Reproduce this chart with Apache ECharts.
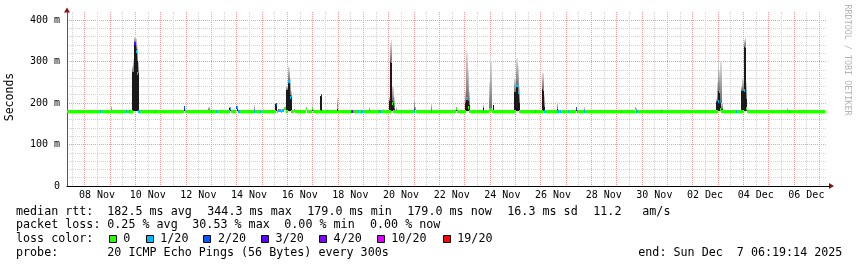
<!DOCTYPE html>
<html><head><meta charset="utf-8">
<script src="https://cdn.jsdelivr.net/npm/echarts@6/dist/echarts.min.js"></script>
<style>html,body{margin:0;padding:0;background:#fff}#c{width:857px;height:267px}</style>
</head><body><div id="c"></div>
<script>
// x values are day numbers: Nov d = d, Dec d = 30 + d
const xStart = 7.315, xEnd = 37.315, dataEnd = 37.24;
const xLabelDays = [8.5,10.5,12.5,14.5,16.5,18.5,20.5,22.5,24.5,26.5,28.5,30.5,32.5,34.5,36.5];
const xLabels = ['08 Nov','10 Nov','12 Nov','14 Nov','16 Nov','18 Nov','20 Nov','22 Nov','24 Nov','26 Nov','28 Nov','30 Nov','02 Dec','04 Dec','06 Dec'];
const gridMajorDays = [8,9,10,11,12,13,14,15,16,17,18,19,20,21,22,23,24,25,26,27,28,29,30,31,32,33,34,35,36,37];
const gridMinorDays = [7.5,8.5,9.5,10.5,11.5,12.5,13.5,14.5,15.5,16.5,17.5,18.5,19.5,20.5,21.5,22.5,23.5,24.5,25.5,26.5,27.5,28.5,29.5,30.5,31.5,32.5,33.5,34.5,35.5,36.5];
const yTickValues = [0,100,200,300,400];
const yTickLabels = ['0','100 m','200 m','300 m','400 m'];

// median rtt (ms), step samples: each holds until the next sample time
const medT = [7.315,8.63,8.67,9.66,9.70,9.78,9.82,9.93,9.97,10.02,10.07,10.12,10.18,10.77,10.81,11.95,11.99,12.98,13.02,13.21,13.25,13.73,13.79,13.97,14.01,14.05,14.09,14.12,14.16,14.69,14.73,14.94,14.98,15.55,15.61,15.65,15.75,15.80,15.90,15.96,16.03,16.11,16.16,16.29,16.33,16.73,16.77,16.97,17.01,17.34,17.38,17.99,18.03,18.53,18.57,18.61,18.65,18.69,18.73,18.80,18.86,18.92,18.98,19.65,19.69,20.09,20.13,20.19,21.03,21.07,21.11,21.67,21.71,22.67,22.71,23.05,23.13,23.17,23.74,23.78,23.98,24.10,25.04,25.10,25.16,25.77,25.81,26.09,26.13,26.17,26.66,26.72,26.78,26.82,27.11,27.15,27.39,27.43,27.47,27.73,27.77,29.17,29.21,29.73,29.78,29.86,30.76,30.80,33.01,33.07,33.11,33.15,33.71,33.77,34.02,34.06,34.10,34.14,35.83,35.87];
const medV = [180,180,180,180,180,180,180,278,344,323,271,180,180,180,180,188,180,180,180,180,180,187,180,188,190,180,180,180,180,180,180,180,180,197,180,183,180,183,186,180,253,214,180,182,180,186,180,186,180,217,180,190,180,180,180,180,180,180,180,180,180,180,180,180,180,300,199,180,180,186,180,180,180,187,180,211,190,180,180,180,185,180,243,225,180,180,180,233,180,180,180,180,180,180,180,180,186,180,180,180,180,180,180,186,180,180,180,180,203,227,185,180,180,180,229,335,187,180,180,180];
const medLoss = [0,1,0,1,0,1,0,1,3,1,1,1,0,1,0,2,0,1,0,1,0,1,0,2,1,1,0,1,0,1,0,1,0,2,0,1,0,1,0,0,1,1,0,0,0,0,0,0,0,3,0,0,0,2,4,1,0,1,0,1,0,1,0,1,0,1,0,0,1,0,0,1,0,0,0,1,0,0,1,0,0,0,1,1,0,1,0,1,1,0,1,0,1,0,1,0,2,1,0,1,0,1,0,0,1,0,1,0,1,0,0,0,1,0,1,1,0,0,1,0];

// smoke (ms): bottom, top of dense part, top of sparse part
const smokeT = [9.09,9.90,9.94,9.98,10.02,10.06,10.10,10.14,11.97,12.92,13.75,14.03,14.71,15.09,15.55,15.59,16.00,16.04,16.08,16.12,16.16,16.99,17.32,17.36,18.01,19.25,19.80,20.03,20.07,20.11,20.15,20.19,20.23,20.34,21.05,21.69,22.69,23.03,23.07,23.11,23.15,23.19,23.76,24.01,24.05,24.09,24.14,25.00,25.04,25.08,25.12,25.16,26.07,26.11,26.15,26.68,27.41,27.75,29.78,30.78,32.97,33.01,33.05,33.09,33.13,33.17,33.96,34.00,34.04,34.08,34.12,35.74,37.12];
const smokeLo = [180,180,180,180,180,180,180,180,180,180,180,180,180,180,180,180,180,180,180,180,180,180,180,180,180,180,180,180,180,180,180,180,180,180,180,180,180,180,180,180,180,180,180,180,180,180,180,180,180,180,180,180,180,180,180,180,180,180,180,180,180,180,180,180,180,180,180,180,180,180,180,180,180];
const smokeDark = [180,275,278,344,344,330,300,271,188,182,188,190,182,180,197,197,230,253,253,219,214,182,217,217,190,180,180,205,300,300,205,199,185,180,185,180,187,200,211,211,205,195,187,185,185,185,195,225,243,243,225,200,233,233,190,185,186,180,180,180,203,205,227,227,200,185,229,229,336,336,210,180,183];
const smokeHi = [193,290,305,358,362,356,340,300,190,191,191,193,195,186,199,199,240,289,285,260,230,195,217,217,212,191,186,215,345,352,241,241,215,190,211,199,189,230,328,320,280,230,194,250,316,300,195,260,305,308,290,240,272,273,220,203,186,191,187,186,210,250,300,280,300,200,240,260,352,356,250,188,183];

const lossSteps = [0,1,2,3,4,10,19];
const lossLabels = ['0','1/20','2/20','3/20','4/20','10/20','19/20'];
const lossColors = ['#26ff00','#00b8ff','#0059ff','#5e00ff','#7e00ff','#dd00ff','#ff0000'];

const statRow1 = ['median rtt:','182.5 ms avg','344.3 ms max','179.0 ms min','179.0 ms now','16.3 ms sd','11.2','am/s'];
const statRow2 = ['packet loss:','0.25 % avg','30.53 % max','0.00 % min','0.00 % now'];
const lossTitle = 'loss color:';
const probeRow = ['probe:','20 ICMP Echo Pings (56 Bytes) every 300s','end: Sun Dec  7 06:19:14 2025'];

// ---- layout / style ----
const MONO = '"DejaVu Sans Mono", monospace';
const LEG_FONT = '11.7px ' + MONO;
const row1X = [16,107.3,207.3,307.3,407.3,507.3,593.3,642.3];
const row2X = [16,107.3,192.3,284.3,370];
const swatchX = [108.7,145.7,203.3,261,319,376.7,442.7];
const probeX = [16,107.3,638.3];
const rowY = [211.7,225.3,239.3,253.3];
const Y_MAX = 420;
const SMOKE_W = 0.042;
const RED_GRID = '#e8a2a2', GREY_GRID = '#d2d2d2';

function lossColor(l){ let c = lossColors[0]; for (let i=0;i<lossSteps.length;i++){ if (l>=lossSteps[i]) c = lossColors[i]; } return c; }

const chart = echarts.init(document.getElementById('c'), null, {renderer:'canvas'});

const graphics = [];
function txt(x,y,s,extra){ graphics.push(Object.assign({type:'text', x:x, y:y, silent:true, style:{text:s, font:LEG_FONT, fill:'#000', textVerticalAlign:'middle'}}, extra||{})); }
statRow1.forEach((s,i)=>txt(row1X[i], rowY[0], s));
statRow2.forEach((s,i)=>txt(row2X[i], rowY[1], s));
txt(16, rowY[2], lossTitle);
lossLabels.forEach((s,i)=>{
  graphics.push({type:'rect', silent:true, shape:{x:Math.round(swatchX[i])+0.5, y:235.5, width:7, height:7}, style:{fill:lossColors[i], stroke:'#000', lineWidth:1}});
  txt(swatchX[i]+14.6, rowY[2], s);
});
probeRow.forEach((s,i)=>txt(probeX[i], rowY[3], s));
// axis title and watermark
graphics.push({type:'text', x:10, y:97, rotation:Math.PI/2, silent:true, style:{text:'Seconds', font:'11.5px '+MONO, fill:'#000', textAlign:'center', textVerticalAlign:'middle'}});
graphics.push({type:'text', x:847, y:60, rotation:-Math.PI/2, silent:true, style:{text:'RRDTOOL / TOBI OETIKER', font:'8.4px '+MONO, fill:'#b4b4b4', textAlign:'center', textVerticalAlign:'middle'}});
// axis arrows
graphics.push({type:'polygon', silent:true, shape:{points:[[64,12.5],[70,12.5],[67,7.5]]}, style:{fill:'#8b1010'}});
graphics.push({type:'polygon', silent:true, shape:{points:[[829,183],[829,189],[834,186]]}, style:{fill:'#8b1010'}});
graphics.push({type:'line', silent:true, shape:{x1:826,y1:186.5,x2:830,y2:186.5}, style:{stroke:'#000', lineWidth:1}});

function vGrid(color){
  return function(params, api){
    const p0 = api.coord([api.value(0), 0]);
    const p1 = api.coord([api.value(0), Y_MAX]);
    const x = Math.round(p0[0]) + 0.5;
    return {type:'line', silent:true, shape:{x1:x, y1:Math.round(p1[1]), x2:x, y2:Math.round(p0[1])}, style:{stroke:color, lineWidth:1, lineDash:[1,1]}};
  };
}

const option = {
  animation:false,
  backgroundColor:'#fff',
  grid:{left:67, top:11.7, width:760, height:174.3, containLabel:false},
  xAxis:{type:'value', min:xStart, max:xEnd,
    axisLine:{show:true, lineStyle:{color:'#000', width:1}},
    axisTick:{show:false},
    splitLine:{show:false},
    axisLabel:{customValues:xLabelDays, formatter:(v)=>{const i=xLabelDays.findIndex(d=>Math.abs(d-v)<1e-6); return i>=0?xLabels[i]:'';},
      fontFamily:MONO, fontSize:10, color:'#000', margin:4}
  },
  yAxis:{type:'value', min:0, max:Y_MAX, interval:20,
    axisLine:{show:true, lineStyle:{color:'#555', width:1}},
    axisTick:{show:false},
    axisLabel:{formatter:(v)=>{const i=yTickValues.indexOf(v); return i>=0?yTickLabels[i]:'';}, fontFamily:MONO, fontSize:10, color:'#000', margin:7},
    splitLine:{show:true, showMaxLine:false, lineStyle:{color:[RED_GRID,GREY_GRID,GREY_GRID,GREY_GRID,GREY_GRID], type:[1,1], width:1}}
  },
  graphic:graphics,
  series:[
    {type:'custom', name:'minor grid', z:1, silent:true, clip:true, data:gridMinorDays.map(d=>[d]), encode:{x:0}, renderItem:vGrid(GREY_GRID)},
    {type:'custom', name:'major grid', z:1, silent:true, clip:true, data:gridMajorDays.map(d=>[d]), encode:{x:0}, renderItem:vGrid(RED_GRID)},
    {type:'custom', name:'smoke', z:3, silent:true, clip:true,
      data:smokeT.map((t,i)=>[t, smokeLo[i], smokeDark[i], smokeHi[i]]), encode:{x:0, y:3},
      renderItem:function(params, api){
        const t=api.value(0), lo=api.value(1), dk=api.value(2), hi=api.value(3);
        const p0 = api.coord([t - SMOKE_W/2, hi]);
        const p1 = api.coord([t + SMOKE_W/2, lo]);
        const x0 = Math.round(p0[0]), x1 = Math.max(x0+1, Math.round(p1[0]));
        const y0 = Math.round(p0[1]), y1 = Math.round(p1[1]);
        const f = hi>lo ? (hi-dk)/(hi-lo) : 0;
        return {type:'rect', shape:{x:x0, y:y0, width:x1-x0, height:Math.max(1,y1-y0)},
          style:{fill:new echarts.graphic.LinearGradient(0,0,0,1,[{offset:0,color:'#e2e2e2'},{offset:f,color:'#6e6e6e'},{offset:f,color:'#1a1a1a'},{offset:1,color:'#1a1a1a'}])}};
      }},
    {type:'custom', name:'median', z:4, silent:true, clip:true,
      data:medT.map((t,i)=>[t, medV[i], medLoss[i], i<medT.length-1?medT[i+1]:dataEnd]), encode:{x:0, y:1},
      renderItem:function(params, api){
        const t=api.value(0), v=api.value(1), l=api.value(2), t2=api.value(3);
        const p0 = api.coord([t, v]);
        const p1 = api.coord([t2, v]);
        const x0 = Math.round(p0[0]), x1 = Math.max(x0+1, Math.round(p1[0]));
        const y0 = Math.round(p0[1]-1.5);
        return {type:'rect', shape:{x:x0, y:y0, width:x1-x0, height:3}, style:{fill:lossColor(l)}};
      }}
  ]
};
chart.setOption(option);
</script></body></html>
